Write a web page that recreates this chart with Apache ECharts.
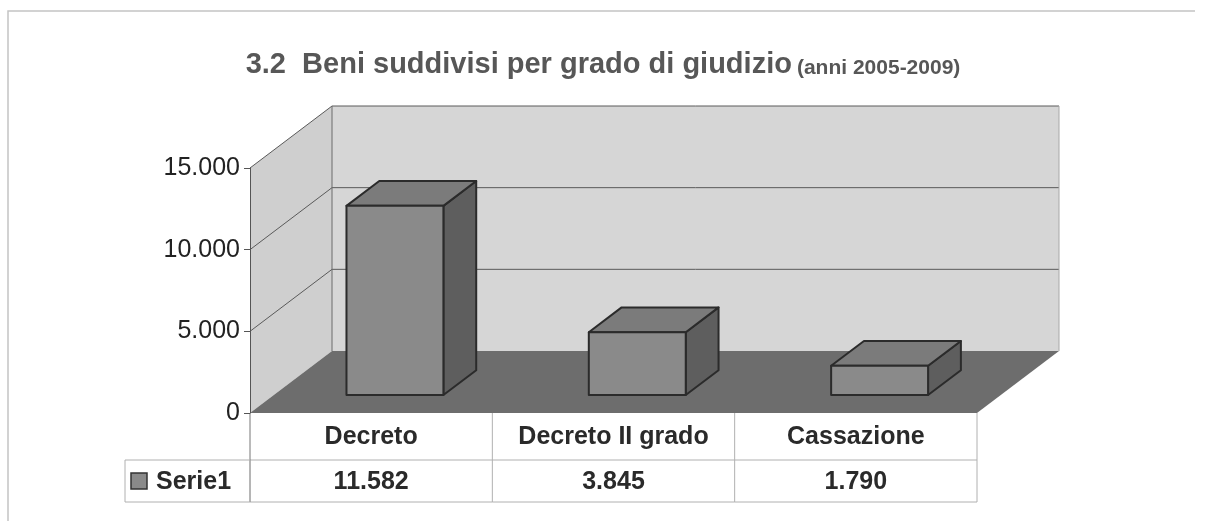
<!DOCTYPE html>
<html>
<head>
<meta charset="utf-8">
<title>Beni suddivisi per grado di giudizio</title>
<script src="https://cdn.jsdelivr.net/npm/echarts@6/dist/echarts.min.js"></script>
<style>
  html, body { margin: 0; padding: 0; background: #fff; }
  #chart { width: 1206px; height: 521px; }
</style>
</head>
<body>
<div id="chart"></div>
<script>
var categories = ['Decreto', 'Decreto II grado', 'Cassazione']
var values = [11582, 3845, 1790]
var seriesName = 'Serie1'
var yTicks = [0, 5000, 10000, 15000]

// fake 3d: how far the back wall sits behind the front plane, and where the boxes are in that depth
var depthX = 82
var depthY = -62
var barFront = 0.29
var barDepth = 0.4
var barWidth = 0.4
// data table under the floor
var rowCat = 47
var rowVal = 42
var legendW = 125

var font = '"Liberation Sans", Arial, sans-serif'

function fmt (v) {
    return String(v).replace(/\B(?=(\d{3})+(?!\d))/g, '.')
}

function renderWalls (params, api) {
    var cs = params.coordSys
    var x0 = cs.x
    var x1 = cs.x + cs.width
    var yTop = cs.y
    var yBot = cs.y + cs.height
    var kids = [
        { type: 'polygon', shape: { points: [[x0, yBot], [x0, yTop], [x0 + depthX, yTop + depthY], [x0 + depthX, yBot + depthY]] }, style: { fill: '#cfcfcf' } },
        { type: 'rect', shape: { x: x0 + depthX, y: yTop + depthY, width: cs.width, height: cs.height }, style: { fill: '#d6d6d6' } },
        { type: 'polygon', shape: { points: [[x0, yBot], [x1, yBot], [x1 + depthX, yBot + depthY], [x0 + depthX, yBot + depthY]] }, style: { fill: '#6d6d6d' } }
    ]
    yTicks.forEach(function (v) {
        if (v === 0) return
        var y = api.coord([0, v])[1]
        kids.push({ type: 'polyline', shape: { points: [[x0, y], [x0 + depthX, y + depthY], [x1 + depthX, y + depthY]] }, style: { stroke: '#5a5a5a', lineWidth: 1, fill: null } })
    })
    kids.push({ type: 'line', shape: { x1: x0 + depthX, y1: yTop + depthY, x2: x0 + depthX, y2: yBot + depthY }, style: { stroke: '#6a6a6a', lineWidth: 1 } })
    kids.push({ type: 'line', shape: { x1: x1 + depthX, y1: yTop + depthY, x2: x1 + depthX, y2: yBot + depthY }, style: { stroke: '#a8a8a8', lineWidth: 1 } })
    return { type: 'group', children: kids }
}

function renderBar (params, api) {
    var i = api.value(0)
    var base = api.coord([i, 0])
    var top = api.coord([i, api.value(1)])
    var band = api.size([1, 0])[0]
    var w = band * barWidth
    var bx = depthX * barDepth
    var by = depthY * barDepth
    var xl = base[0] - w / 2 + depthX * barFront
    var xr = xl + w
    var yb = base[1] + depthY * barFront
    var yt = top[1] + depthY * barFront
    var edge = { stroke: '#2b2b2b', lineWidth: 2, lineJoin: 'round' }
    return {
        type: 'group',
        children: [
            { type: 'polygon', shape: { points: [[xr, yb], [xr + bx, yb + by], [xr + bx, yt + by], [xr, yt]] }, style: Object.assign({ fill: '#5e5e5e' }, edge) },
            { type: 'polygon', shape: { points: [[xl, yt], [xr, yt], [xr + bx, yt + by], [xl + bx, yt + by]] }, style: Object.assign({ fill: '#7b7b7b' }, edge) },
            { type: 'rect', shape: { x: xl, y: yt, width: w, height: yb - yt }, style: Object.assign({ fill: '#8a8a8a' }, edge) }
        ]
    }
}

function cellText (x, y, text) {
    return {
        type: 'text', x: x, y: y,
        style: { text: text, fontSize: 25, fontWeight: 'bold', fontFamily: font, fill: '#2a2a2a', align: 'center', verticalAlign: 'middle' }
    }
}

function renderTable (params, api) {
    var i = api.value(0)
    var c = api.coord([i, 0])
    var band = api.size([1, 0])[0]
    var xl = c[0] - band / 2
    var xr = c[0] + band / 2
    var y0 = c[1]
    var y1 = y0 + rowCat
    var y2 = y1 + rowVal
    var line = { stroke: '#b0b0b0', lineWidth: 1 }
    var kids = [
        { type: 'line', shape: { x1: xr, y1: y0, x2: xr, y2: y2 }, style: line },
        { type: 'line', shape: { x1: xl, y1: y1, x2: xr, y2: y1 }, style: line },
        { type: 'line', shape: { x1: xl, y1: y2, x2: xr, y2: y2 }, style: line },
        cellText(c[0], (y0 + y1) / 2 + 1, categories[i]),
        cellText(c[0], (y1 + y2) / 2 + 1, fmt(api.value(1)))
    ]
    if (i === 0) {
        kids.push({ type: 'line', shape: { x1: xl, y1: y0, x2: xl, y2: y2 }, style: { stroke: '#777', lineWidth: 1 } })
        kids.push({ type: 'rect', shape: { x: xl - legendW, y: y1, width: legendW, height: rowVal }, style: { fill: null, stroke: '#b0b0b0', lineWidth: 1 } })
        kids.push({ type: 'rect', shape: { x: xl - legendW + 6, y: (y1 + y2) / 2 - 8, width: 16, height: 16 }, style: { fill: '#8a8a8a', stroke: '#333', lineWidth: 1.5 } })
        kids.push({
            type: 'text', x: xl - legendW + 31, y: (y1 + y2) / 2 + 1,
            style: { text: seriesName, fontSize: 25, fontWeight: 'bold', fontFamily: font, fill: '#2a2a2a', align: 'left', verticalAlign: 'middle' }
        })
    }
    return { type: 'group', children: kids }
}

var barData = values.map(function (v, i) { return [i, v] })

var option = {
    backgroundColor: '#fff',
    animation: false,
    title: {
        text: '{a|3.2  Beni suddivisi per grado di giudizio} {b|(anni 2005-2009)}',
        left: 'center',
        top: 42,
        textStyle: {
            fontFamily: font,
            rich: {
                a: { fontSize: 29, fontWeight: 'bold', color: '#575757', fontFamily: font, lineHeight: 36 },
                b: { fontSize: 21, fontWeight: 'bold', color: '#575757', fontFamily: font, lineHeight: 36, padding: [6, 0, 0, 0] }
            }
        }
    },
    graphic: [
        { type: 'polyline', shape: { points: [[8, 521], [8, 11], [1195, 11]] }, style: { stroke: '#c4c4c4', lineWidth: 1.5, fill: null } }
    ],
    grid: {
        left: 250,
        right: 229,
        top: 168,
        bottom: 108,
        containLabel: false,
        outerBoundsMode: 'none'
    },
    xAxis: {
        type: 'category',
        data: categories,
        show: false
    },
    yAxis: {
        type: 'value',
        min: 0,
        max: 15000,
        interval: 5000,
        z: 5,
        axisLine: { show: true, lineStyle: { color: '#555', width: 1 } },
        axisTick: { show: true, length: 6, lineStyle: { color: '#555' } },
        splitLine: { show: false },
        axisLabel: {
            fontSize: 25,
            fontFamily: font,
            color: '#222',
            margin: 10,
            formatter: fmt
        }
    },
    series: [
        {
            type: 'custom',
            name: 'pareti',
            z: 1,
            silent: true,
            renderItem: renderWalls,
            data: [[0, 0]]
        },
        {
            type: 'custom',
            name: 'tabella',
            z: 2,
            silent: true,
            renderItem: renderTable,
            data: barData
        },
        {
            type: 'custom',
            name: seriesName,
            z: 3,
            renderItem: renderBar,
            data: barData
        }
    ]
}

var myChart = echarts.init(document.getElementById('chart'))
myChart.setOption(option)
</script>
</body>
</html>
